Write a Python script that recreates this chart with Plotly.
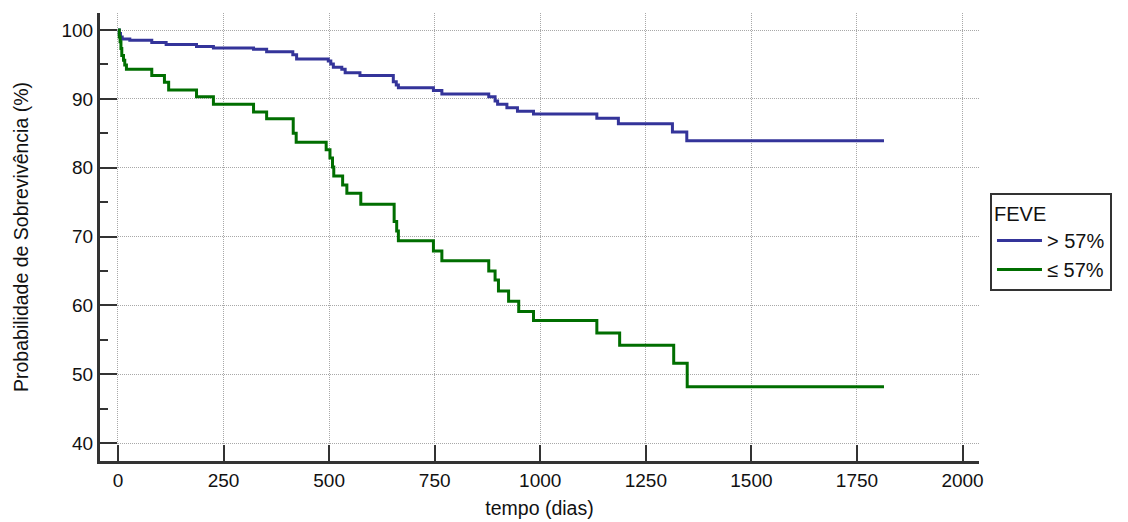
import plotly.graph_objects as go

# Kaplan-Meier step estimates: event times (days) and survival (%) after each step
dias_maior = [0, 3, 6, 10, 28, 80, 114, 186, 226, 321, 352, 414, 423, 498, 504, 510,
              530, 538, 573, 652, 659, 664, 747, 767, 878, 893, 899, 921, 946, 984,
              1134, 1185, 1313, 1347, 1814]
surv_maior = [100, 99.5, 99.0, 98.7, 98.5, 98.2, 97.9, 97.6, 97.4, 97.2, 96.85, 96.4,
              95.8, 95.5, 95.06, 94.6, 94.3, 93.8, 93.4, 92.5, 92.0, 91.6, 91.2, 90.7,
              90.3, 89.7, 89.2, 88.7, 88.2, 87.8, 87.2, 86.4, 85.2, 83.9, 83.9]

dias_menor = [0, 3, 5, 7, 9, 13, 16, 20, 80, 110, 120, 186, 226, 321, 352, 415, 422,
              493, 502, 508, 511, 532, 542, 575, 654, 660, 664, 747, 767, 878, 893,
              901, 925, 949, 984, 1134, 1188, 1316, 1348, 1814]
surv_menor = [100, 99.0, 98.3, 97.3, 96.3, 95.6, 94.9, 94.3, 93.4, 92.4, 91.3, 90.3,
              89.2, 88.1, 87.1, 85.0, 83.7, 82.6, 81.4, 80.1, 78.8, 77.5, 76.3, 74.7,
              72.2, 70.8, 69.4, 67.9, 66.5, 65.0, 63.7, 62.1, 60.6, 59.1, 57.8, 56.0,
              54.2, 51.6, 48.2, 48.2]

grupos = ["> 57%", "≤ 57%"]
cores = ["#34349a", "#006e00"]

x_ticks = [0, 250, 500, 750, 1000, 1250, 1500, 1750, 2000]
y_ticks = [40, 50, 60, 70, 80, 90, 100]

FONT = "Liberation Sans, Arial, sans-serif"
AX = "#333333"
GRID = "#a8a8a8"

fig = go.Figure()
for nome, xs, ys, cor in [(grupos[0], dias_maior, surv_maior, cores[0]),
                          (grupos[1], dias_menor, surv_menor, cores[1])]:
    fig.add_trace(go.Scatter(x=xs, y=ys, mode="lines", name=nome,
                             line=dict(color=cor, width=3, shape="hv")))

fig.update_layout(
    width=1128, height=522,
    margin=dict(l=100, r=149, t=13, b=61),
    paper_bgcolor="white", plot_bgcolor="white",
    font=dict(family=FONT, size=19, color="#111111"),
    showlegend=True,
    legend=dict(
        title=dict(text="FEVE", font=dict(size=20)),
        x=1.0125, xanchor="left", y=0.598, yanchor="top",
        bordercolor=AX, borderwidth=2, bgcolor="white",
        font=dict(size=20), tracegroupgap=0, itemwidth=45,
    ),
    xaxis=dict(
        range=[-42.6, 2039], tickvals=x_ticks, ticks="inside", ticklen=16,
        tickwidth=2, tickcolor=AX, showline=True, linewidth=3, linecolor=AX,
        showgrid=True, gridcolor=GRID, griddash="1px,1px", gridwidth=1,
        zeroline=False,
        title=dict(text="tempo (dias)", font=dict(size=19.5), standoff=12),
        automargin=False,
    ),
    yaxis=dict(
        range=[37.4, 102.47], tickvals=y_ticks, ticks="inside", ticklen=17,
        tickwidth=2, tickcolor=AX, showline=True, linewidth=3, linecolor=AX,
        showgrid=True, gridcolor=GRID, griddash="1px,1px", gridwidth=1,
        zeroline=False,
        minor=dict(dtick=5, ticks="inside", ticklen=8, tickwidth=2,
                   tickcolor=AX, showgrid=False),
        title=dict(text="Probabilidade de Sobrevivência (%)", font=dict(size=19.5),
                   standoff=28),
        automargin=False,
    ),
)

fig.write_html("out.html")
